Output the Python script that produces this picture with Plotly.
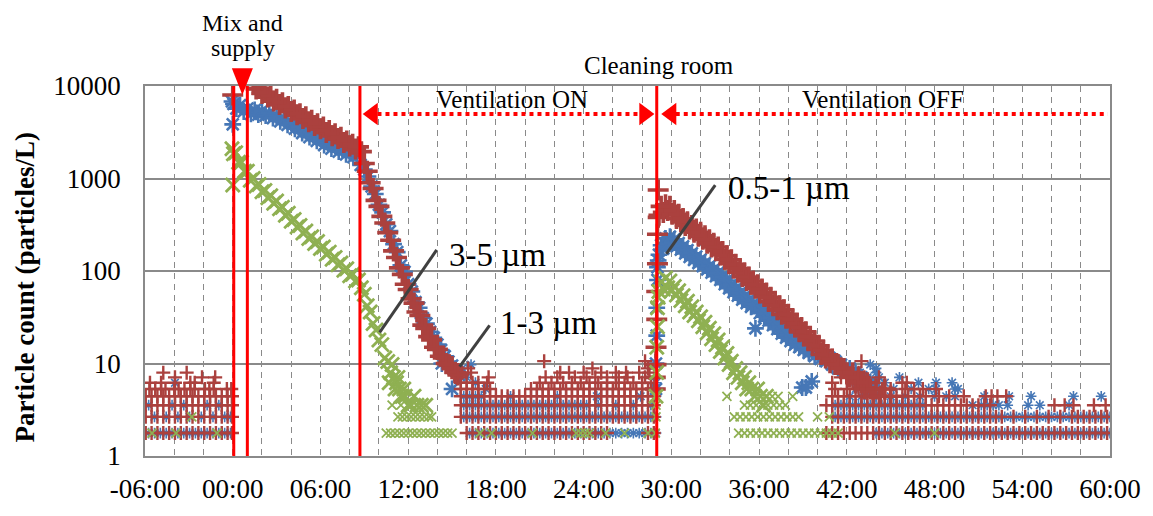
import math
import plotly.graph_objects as go

# ---------------- axis labels / events ----------------
X_TICK_VALS = [-6, 0, 6, 12, 18, 24, 30, 36, 42, 48, 54, 60]
X_TICK_TEXT = ["-06:00", "00:00", "06:00", "12:00", "18:00", "24:00",
               "30:00", "36:00", "42:00", "48:00", "54:00", "60:00"]
Y_TICK_VALS = [1, 10, 100, 1000, 10000]
Y_TICK_TEXT = ["1", "10", "100", "1000", "10000"]
EVENT_TIMES = [0.07, 1.0, 8.7, 29.0]   # minutes

# ---------------- sample times of the quantised background rows ----------------
T_PRE = [-5.95, -5.55, -5.15, -4.75, -4.35, -3.95, -3.55, -3.15, -2.75, -2.35,
         -1.95, -1.55, -1.15, -0.75, -0.35, -0.05]
T_PRE_B = [-5.75, -5.35, -4.95, -4.55, -4.15, -3.75, -3.35, -2.95, -2.55, -2.15,
           -1.75, -1.35, -0.95, -0.55, -0.15]
T_ON = [15.6, 16.0, 16.4, 16.8, 17.2, 17.6, 18.0, 18.4, 18.8, 19.2,
        19.6, 20.0, 20.4, 20.8, 21.2, 21.6, 22.0, 22.4, 22.8, 23.2,
        23.6, 24.0, 24.4, 24.8, 25.2, 25.6, 26.0, 26.4, 26.8, 27.2,
        27.6, 28.0, 28.4, 28.8]
T_ON_B = [15.8, 16.2, 16.6, 17.0, 17.4, 17.8, 18.2, 18.6, 19.0, 19.4,
          19.8, 20.2, 20.6, 21.0, 21.4, 21.8, 22.2, 22.6, 23.0, 23.4,
          23.8, 24.2, 24.6, 25.0, 25.4, 25.8, 26.2, 26.6, 27.0, 27.4,
          27.8, 28.2, 28.6, 28.95]
T_OFF = [40.6, 41.0, 41.4, 41.8, 42.2, 42.6, 43.0, 43.4, 43.8, 44.2, 44.6,
         45.0, 45.4, 45.8, 46.2, 46.6, 47.0, 47.4, 47.8, 48.2, 48.6,
         49.0, 49.4, 49.8, 50.2, 50.6, 51.0, 51.4, 51.8, 52.2, 52.6,
         53.0, 53.4, 53.8, 54.2, 54.6, 55.0, 55.4, 55.8, 56.2, 56.6,
         57.0, 57.4, 57.8, 58.2, 58.6, 59.0, 59.4, 59.8]
T_OFF_B = [41.2, 41.6, 42.0, 42.4, 42.8, 43.2, 43.6, 44.0, 44.4, 44.8,
           45.2, 45.6, 46.0, 46.4, 46.8, 47.2, 47.6, 48.0, 48.4, 48.8,
           49.2, 49.6, 50.0, 50.4, 50.8, 51.2, 51.6, 52.0, 52.4, 52.8,
           53.2, 53.6, 54.0, 54.4, 54.8, 55.2, 55.6, 56.0, 56.4, 56.8,
           57.2, 57.6, 58.0, 58.4, 58.8, 59.2, 59.6, 60.0]


def span(ts, a, b):
    return [t for t in ts if a <= t <= b]


# ---------------- 0.5-1 um (blue) ----------------
blue_decay_t = [-0.05, 0.0, 0.05, 0.25, 0.5, 0.75, 1.0, 1.25, 1.5, 1.75,
                2.0, 2.25, 2.5, 2.75, 3.0, 3.25, 3.5, 3.75, 4.0, 4.25,
                4.5, 4.75, 5.0, 5.25, 5.5, 5.75, 6.0, 6.25, 6.5, 6.75,
                7.0, 7.25, 7.5, 7.75, 8.0, 8.25, 8.5, 8.75,
                9.0, 9.25, 9.5, 9.75, 10.0, 10.25, 10.5, 10.75, 11.0, 11.25,
                11.5, 11.75, 12.0, 12.25, 12.5, 12.75, 13.0, 13.25, 13.5, 13.75,
                14.0, 14.25, 14.5, 14.75, 15.0, 15.25, 15.5, 14.3, 15.0]
blue_decay_v = [6800, 3850, 6400, 5700, 6200, 5300, 5700, 5000, 5500, 4900,
                5400, 4800, 5100, 4500, 4800, 4150, 4400, 3800, 4000, 3450,
                3600, 3100, 3250, 2800, 2950, 2550, 2700, 2300, 2450, 2100,
                2250, 1950, 2080, 1820, 1950, 1700, 1780, 1400,
                1250, 1050, 820, 680, 520, 430, 320, 270, 195, 160,
                115, 98, 72, 60, 46, 40, 31, 27, 22, 19,
                16, 14, 12, 10.5, 9.5, 8.5, 7.5, 10.0, 5.31]
blue_post_t = [28.95, 28.95, 29.0, 29.0, 29.05, 29.05, 29.1,
               29.15, 29.3, 29.45, 29.6, 29.75, 29.9, 30.05, 30.2, 30.35, 30.5,
               30.65, 30.8, 30.95, 31.1, 31.25, 31.4, 31.55, 31.7, 31.85, 32.0,
               32.15, 32.3, 32.45, 32.6, 32.75, 32.9, 33.05, 33.2, 33.35, 33.5,
               33.65, 33.8, 33.95, 34.1, 34.25, 34.4, 34.55, 34.7, 34.85, 35.0,
               35.15, 35.3, 35.45, 35.6, 35.75, 35.9, 36.05, 36.2, 36.35, 36.5,
               36.65, 36.8, 36.95, 37.1, 37.25, 37.4, 37.55, 37.7, 37.85, 38.0,
               38.15, 38.3, 38.45, 38.6, 38.75, 38.9, 39.05, 39.2, 39.4, 39.6,
               39.8, 40.0, 40.2, 40.4, 40.6, 40.8, 41.0, 41.2, 41.4, 41.6,
               41.8, 42.0, 42.2, 42.4, 42.6, 42.8, 43.0, 43.2, 43.4, 43.6,
               43.8, 44.0, 38.95, 39.6, 39.2]
blue_post_v = [5.31, 10, 20, 40, 80, 110, 130,
               150, 190, 175, 225, 195, 235, 200, 220, 185, 200,
               170, 185, 155, 168, 142, 155, 132, 143, 122, 133,
               113, 122, 104, 113, 96, 104, 88, 96, 80, 87,
               72, 79, 65, 71, 59, 64, 54, 58, 49, 53,
               45, 48, 41, 44, 24, 40, 35, 37.5, 32, 34,
               29, 31, 26, 28, 23.5, 25, 21, 22.5, 19, 20.5,
               17.5, 18.5, 16, 17, 15, 16, 14, 15, 13, 14,
               12, 13, 11.2, 12.2, 10.6, 11.5, 9.7, 10.6, 8.85, 9.7,
               8.85, 7.96, 8.85, 7.08, 7.96, 6.19, 7.08, 6.19, 5.31, 6.19,
               5.31, 6.19, 5.5, 6.4, 5.5]
blue_rows = [
    (1.77, T_PRE_B),
    (2.65, [-5.35, -4.55, -3.75, -2.95, -2.15, -1.35, -0.55, -0.15]),
    (3.54, [-5.75, -4.15, -3.35, -1.75, -0.95]),
    (6.19, [-3.95]),
    (1.77, span(T_ON_B, 16.2, 29.0)),
    (2.65, T_ON_B),
    (3.54, span(T_ON_B, 15.8, 24.2) + [25.0, 26.2, 27.4, 28.6]),
    (4.42, [15.8, 16.2, 16.6, 17.0, 19.0, 22.2, 24.9, 27.9, 28.95]),
    (5.31, [17.3]), (6.19, [16.6, 28.95]), (7.08, [16.0]),
    (8.85, [15.7]), (9.73, [16.3]),
    (1.77, span(T_OFF_B, 44.0, 60.0)),
    (2.65, T_OFF_B),
    (3.54, span(T_OFF_B, 41.0, 47.2) + [50.6, 51.2, 51.6, 52.0, 52.4, 53.0, 54.4, 55.2, 57.2]),
    (4.42, [42.2, 43.0, 44.0, 45.0, 46.0, 47.0, 48.0, 48.8, 49.4, 51.4, 53.1, 54.6, 57.5, 59.4]),
    (5.31, [42.6, 43.4, 44.2, 45.2, 46.4, 47.6, 48.1, 49.4, 49.6]),
    (6.19, [43.0, 43.8, 44.6, 46.9, 48.1, 49.2]),
    (7.08, [43.4, 44.2, 45.6]), (7.96, [42.9, 44.0]),
    (8.85, [44.0]), (9.73, [43.6]),
]

# ---------------- 1-3 um (red) ----------------
red_decay_t = [0.0, 1.4, 1.6, 1.8, 2.0, 2.2, 2.4, 2.6, 2.8, 3.0,
               3.2, 3.4, 3.6, 3.8, 4.0, 4.2, 4.4, 4.6, 4.8, 5.0,
               5.2, 5.4, 5.6, 5.8, 6.0, 6.2, 6.4, 6.6, 6.8, 7.0,
               7.2, 7.4, 7.6, 7.8, 8.0, 8.2, 8.4, 8.6, 8.8, 9.0,
               9.2, 9.4, 9.6, 9.8, 10.0, 10.2, 10.4, 10.6, 10.8, 11.0,
               11.2, 11.4, 11.6, 11.8, 12.0, 12.2, 12.4, 12.6, 12.8, 13.0,
               13.2, 13.4, 13.6, 13.8, 14.0, 14.2, 14.4, 14.6, 14.8, 15.0,
               15.2, 15.4]
red_decay_v = [8000, 10400, 9300, 9400, 8300, 8500, 7600, 7800, 6900, 7200,
               6300, 6600, 5800, 6000, 5300, 5500, 4900, 5000, 4450, 4650,
               4100, 4250, 3750, 3900, 3450, 3600, 3150, 3300, 2900, 3050,
               2700, 2800, 2450, 2550, 2250, 2350, 2080, 2200, 1950, 1450,
               1200, 900, 780, 580, 500, 390, 330, 260, 215, 165,
               140, 108, 92, 72, 63, 50, 45, 36, 33, 26,
               24, 19.5, 18, 15, 14.2, 12, 11.5, 10, 9.7, 8.8,
               8.0, 7.5]
red_post_t = [28.9, 28.9, 28.95, 28.95, 29.0, 29.0, 29.05, 29.05, 29.1, 29.1,
              29.15, 29.3, 29.45, 29.6, 29.75, 29.9, 30.05, 30.2, 30.35, 30.5,
              30.65, 30.8, 30.95, 31.1, 31.25, 31.4, 31.55, 31.7, 31.85, 32.0,
              32.15, 32.3, 32.45, 32.6, 32.75, 32.9, 33.05, 33.2, 33.35, 33.5,
              33.65, 33.8, 33.95, 34.1, 34.25, 34.4, 34.55, 34.7, 34.85, 35.0,
              35.15, 35.3, 35.45, 35.6, 35.75, 35.9, 36.05, 36.2, 36.35, 36.5,
              36.65, 36.8, 36.95, 37.1, 37.25, 37.4, 37.55, 37.7, 37.85, 38.0,
              38.15, 38.3, 38.45, 38.6, 38.75, 38.9, 39.05, 39.2, 39.35, 39.5,
              39.65, 39.8, 39.95, 40.1, 40.25, 40.4, 40.55, 40.7, 40.85, 41.0,
              41.2, 41.4, 41.6, 41.8, 42.0, 42.2, 42.4, 42.6, 42.8, 43.0,
              43.2, 43.4, 43.6, 43.8, 44.0, 44.3, 44.6, 45.0]
red_post_v = [5.31, 7.08, 9.73, 15, 30, 60, 120, 250, 380, 750,
              400, 500, 430, 520, 450, 500, 410, 450, 370, 410,
              340, 370, 310, 340, 285, 310, 262, 285, 238, 262,
              220, 240, 200, 218, 182, 200, 166, 182, 150, 162,
              134, 146, 120, 132, 108, 118, 97, 106, 87, 95,
              79, 86, 72, 78, 65, 71, 58, 64, 53, 58,
              47, 52, 43, 47, 38, 42, 34, 38, 31, 34,
              28, 30, 25, 27, 22, 24.5, 20, 22, 18, 19.5,
              16, 17.5, 14.2, 15.5, 12.5, 13.8, 11.5, 12.4, 10.2, 11.2,
              9.73, 9.73, 8.85, 8.85, 7.96, 7.08, 7.96, 6.19, 7.08, 6.19,
              5.31, 6.19, 5.31, 4.42, 5.31, 4.42, 5.31, 4.42]
red_rows = [
    (1.77, T_PRE), (2.65, T_PRE), (3.54, T_PRE), (4.42, T_PRE),
    (5.31, [-5.7, -5.3, -4.9, -4.6, -4.0, -3.7, -3.3, -2.9, -2.6, -1.9, -1.6, -1.3, -0.4, -0.1]),
    (6.19, [-5.66, -4.9, -3.95, -2.9, -2.6, -1.3]),
    (7.08, [-3.95, -2.1, -1.2]),
    (7.96, [-4.75, -3.15]),
    (1.77, span(T_ON, 16.0, 25.7) + [28.4, 28.8]),
    (2.65, T_ON), (3.54, T_ON), (4.42, T_ON),
    (5.31, span(T_ON, 15.5, 17.7) + span(T_ON, 20.4, 29.0)),
    (6.19, [15.6, 16.0, 16.4, 16.8, 17.4, 21.0, 21.8, 22.6, 23.2, 23.8, 24.4, 25.0,
            25.6, 26.2, 26.8, 27.4, 28.0, 28.6]),
    (7.08, [15.6, 17.5, 21.4, 22.2, 23.4, 24.2, 24.8, 25.6, 26.4, 27.0, 28.2]),
    (7.96, [15.7, 16.3, 22.4, 23.0, 24.0, 25.2, 26.2, 26.9, 27.8, 28.5]),
    (8.85, [16.1, 24.6, 28.4]),
    (10.6, [21.3, 28.2]),
    (1.77, T_OFF),
    (2.65, span(T_OFF, 40.9, 52.2) + [52.6, 53.4, 54.2, 55.0, 55.8, 56.6, 57.4]
     + span(T_OFF, 57.8, 60.0)),
    (3.54, span(T_OFF, 40.6, 52.0) + [56.2, 56.9, 57.5, 58.9, 59.7]),
    (4.42, span(T_OFF, 41.0, 47.4) + [48.3, 49.0, 50.0, 51.5, 51.9, 52.3, 52.9]),
    (5.31, [41.2, 42.0, 42.8, 43.6, 44.4, 45.0, 46.0, 46.6, 47.2, 48.1]),
    (6.19, [41.0, 42.4, 43.5, 45.8, 46.1]),
    (7.08, [41.6, 43.2, 44.2]),
    (7.96, [42.4, 42.8]),
    (10.6, [43.0]),
]

# ---------------- 3-5 um (green) ----------------
green_decay_t = [0.0, -0.05, 0.05, 0.2, 0.4, 0.6, 0.8, 1.0, 1.2, 1.4,
                 1.6, 1.8, 2.0, 2.2, 2.4, 2.6, 2.8, 3.0, 3.2, 3.4,
                 3.6, 3.8, 4.0, 4.2, 4.4, 4.6, 4.8, 5.0, 5.2, 5.4,
                 5.6, 5.8, 6.0, 6.2, 6.4, 6.6, 6.8, 7.0, 7.2, 7.4,
                 7.6, 7.8, 8.0, 8.2, 8.4, 8.6, 8.8, 9.0, 9.2, 9.4,
                 9.6, 9.8, 10.0, 10.2, 10.4, 10.6, 10.8, 11.0, 11.2, 11.4,
                 11.6, 11.8, 12.0, 10.7, 10.9, 11.1, 11.3, 11.5, 11.7, 12.2,
                 12.4, 12.6, 12.9, 13.2]
green_decay_v = [850, 2100, 1850, 1900, 1500, 1500, 1200, 1200, 960, 1000,
                 830, 860, 720, 740, 620, 650, 540, 570, 470, 490,
                 400, 420, 345, 360, 300, 310, 258, 270, 225, 235,
                 198, 208, 175, 182, 152, 160, 134, 140, 117, 122,
                 102, 106, 89, 92, 78, 80, 66, 56, 42, 36,
                 27, 23, 18, 16, 11.5, 10.5, 7.96, 7.08, 6.19, 5.31,
                 4.42, 4.42, 3.54, 6.19, 9.73, 5.31, 7.08, 4.42, 5.31, 3.54,
                 4.42, 3.54, 3.54, 3.54]
green_post_t = [28.95, 29.0, 29.0, 29.05, 29.05, 29.1, 29.15, 29.3, 29.45, 29.6,
                29.75, 29.9, 30.05, 30.2, 30.35, 30.5, 30.65, 30.8, 30.95, 31.1,
                31.25, 31.4, 31.55, 31.7, 31.85, 32.0, 32.15, 32.3, 32.45, 32.6,
                32.75, 32.9, 33.05, 33.2, 33.35, 33.5, 33.65, 33.8, 33.95, 34.1,
                34.25, 34.4, 34.55, 34.7, 34.85, 35.0, 35.15, 35.3, 35.5, 35.7,
                35.9, 36.1, 36.3, 36.5]
green_post_v = [4.42, 8.0, 15, 25, 40, 52, 60, 76, 64, 84,
                66, 78, 62, 68, 55, 61, 48, 54, 42, 47,
                36, 41, 33, 36, 29, 32, 25, 28, 21.5, 24,
                18.5, 21, 16, 18, 13.5, 15, 11.5, 12.8, 9.73, 10.6,
                7.96, 8.85, 7.08, 7.96, 6.19, 7.08, 5.31, 6.19, 5.31, 4.42,
                5.31, 4.42, 3.54, 4.42]
green_rows = [
    (1.77, [-5.52, -3.88, -1.08]),
    (2.65, [-2.8]),
    (1.77, [10.5, 10.8, 11.1, 11.4, 11.7, 12.0, 12.3, 12.6, 12.9, 13.2, 13.5,
            13.8, 14.1, 14.4, 14.7, 15.0]),
    (2.65, [11.3, 11.6, 11.9, 12.2, 12.5, 12.8, 13.1, 13.4, 13.6]),
    (3.54, [10.9, 11.5, 12.0]),
    (1.77, [16.9, 17.7, 20.5, 23.5, 23.8, 24.1, 24.4, 25.5, 26.8, 28.4, 28.9]),
    (2.65, [28.95]), (3.54, [28.95]),
    (1.77, [34.6, 35.0, 35.4, 35.8, 36.2, 36.6, 37.0, 37.4, 37.8, 38.2, 38.6,
            39.0, 39.4, 39.8, 40.2, 40.6, 41.0, 41.4, 45.3, 48.0]),
    (2.65, [34.3, 34.7, 35.1, 35.5, 35.9, 36.3, 36.7, 37.1, 37.5, 37.9, 38.3,
            38.7, 40.0, 40.8]),
    (3.54, [35.0, 35.4, 35.8, 36.2, 36.6, 37.0, 37.4, 37.8]),
    (4.42, [33.8, 36.9, 37.3, 38.3]),
]

# ---------------- styling ----------------
BLUE = "#4677b6"
RED = "#ab413e"
GREEN = "#8fb052"
GRID = "#8a8a8a"
EVENT_RED = "#ff0000"
FONT = "Liberation Serif"


def flat(parts):
    out = []
    for p in parts:
        out += p
    return out


def rows_xy(rows):
    xs, ys = [], []
    for level, times in rows:
        xs += times
        ys += [level] * len(times)
    return xs, ys


series = [
    ("0.5-1 µm", [blue_decay_t, blue_post_t], [blue_decay_v, blue_post_v], blue_rows,
     BLUE, "asterisk-open", (14, 2.6), (9, 1.6)),
    ("1-3 µm", [red_decay_t, red_post_t], [red_decay_v, red_post_v], red_rows,
     RED, "cross-thin-open", (15, 3.6), (10, 2.4)),
    ("3-5 µm", [green_decay_t, green_post_t], [green_decay_v, green_post_v], green_rows,
     GREEN, "x-thin-open", (14, 2.8), (9, 1.8)),
]

fig = go.Figure()
for name, pt, pv, rows, col, sym, curve_sz, row_sz in series:
    rx, ry = rows_xy(rows)
    fig.add_trace(go.Scatter(x=rx, y=ry, mode="markers", name=name, legendgroup=name,
                             marker=dict(symbol=sym, size=row_sz[0], color=col,
                                         line=dict(color=col, width=row_sz[1])),
                             showlegend=False, hoverinfo="skip"))
    cx, cy = flat(pt), flat(pv)
    assert len(cx) == len(cy)
    fig.add_trace(go.Scatter(x=cx, y=cy, mode="markers", name=name, legendgroup=name,
                             marker=dict(symbol=sym, size=curve_sz[0], color=col,
                                         line=dict(color=col, width=curve_sz[1])),
                             showlegend=False, hoverinfo="skip"))

# leader lines for the size labels (data coordinates)
LEADERS = [
    ("3-5 µm", [13.95, 10.05], [169, 21.7], 14.63, 150),
    ("1-3 µm", [17.57, 15.52], [25.8, 9.24], 18.11, 27.7),
    ("0.5-1 µm", [33.0, 29.66], [848, 153], 33.75, 788),
]
for label, lx, ly, tx, ty in LEADERS:
    fig.add_trace(go.Scatter(x=lx, y=ly, mode="lines", showlegend=False, hoverinfo="skip",
                             line=dict(color="#404040", width=3)))
    fig.add_annotation(x=tx, y=math.log10(ty), xref="x", yref="y", text=label,
                       showarrow=False, xanchor="left", yanchor="middle",
                       font=dict(family=FONT, size=33, color="black"))

# event lines
for t in EVENT_TIMES:
    fig.add_vline(x=t, line=dict(color=EVENT_RED, width=3))

# ventilation arrows (y in paper coordinates)
ARROW_Y = 0.9244
HEAD_H = 0.0305
fig.add_shape(type="line", xref="x", yref="paper", x0=9.9, x1=27.85, y0=ARROW_Y, y1=ARROW_Y,
              line=dict(color=EVENT_RED, width=4, dash="dot"))
fig.add_shape(type="line", xref="x", yref="paper", x0=30.3, x1=59.85, y0=ARROW_Y, y1=ARROW_Y,
              line=dict(color=EVENT_RED, width=4, dash="dot"))
for tip, base in [(8.89, 9.92), (28.84, 27.81), (29.31, 30.34)]:
    fig.add_shape(type="path", xref="x", yref="paper",
                  path=f"M {tip},{ARROW_Y} L {base},{ARROW_Y + HEAD_H} L {base},{ARROW_Y - HEAD_H} Z",
                  fillcolor=EVENT_RED, line=dict(width=0))
# "Mix and supply" marker triangle
fig.add_shape(type="path", xref="x", yref="paper",
              path="M -0.06,1.0477 L 1.38,1.0477 L 0.66,0.976 Z",
              fillcolor=EVENT_RED, line=dict(width=0))

TEXTS = [
    ("Mix and", 0.69, 1.1698, 24),
    ("supply", 0.69, 1.1035, 24),
    ("Cleaning room", 29.18, 1.0557, 25),
    ("Ventilation ON", 19.07, 0.9629, 25),
    ("Ventilation OFF", 44.48, 0.9629, 25),
]
for txt, x, y, fs in TEXTS:
    fig.add_annotation(x=x, y=y, xref="x", yref="paper", text=txt, showarrow=False,
                       xanchor="center", yanchor="middle",
                       font=dict(family=FONT, size=fs, color="black"))

fig.add_annotation(x=-0.1242, y=0.456, xref="paper", yref="paper",
                   text="<b>Particle count (particles/L)</b>", textangle=-90,
                   showarrow=False, xanchor="center", yanchor="middle",
                   font=dict(family=FONT, size=27, color="black"))

fig.update_xaxes(range=[-6, 60], tickmode="array", tickvals=X_TICK_VALS, ticktext=X_TICK_TEXT,
                 showgrid=True, gridcolor=GRID, gridwidth=1.2, griddash="6px,5px",
                 minor=dict(tickmode="linear", tick0=-6, dtick=2, showgrid=True,
                            gridcolor=GRID, gridwidth=1.2, griddash="6px,5px"),
                 showline=True, mirror=True, linecolor=GRID, linewidth=1.5,
                 ticks="", zeroline=False, ticklabelstandoff=8,
                 tickfont=dict(family=FONT, size=27, color="black"))
fig.update_yaxes(type="log", range=[0, 4], tickmode="array", tickvals=Y_TICK_VALS,
                 ticktext=Y_TICK_TEXT, showgrid=True, gridcolor=GRID, gridwidth=1.5,
                 showline=True, mirror=True, linecolor=GRID, linewidth=1.5,
                 ticks="", zeroline=False, ticklabelstandoff=17,
                 tickfont=dict(family=FONT, size=27, color="black"))

fig.update_layout(width=1153, height=516, margin=dict(l=145, r=42, t=86, b=53),
                  paper_bgcolor="white", plot_bgcolor="white", showlegend=False)

fig.write_html("out.html")
